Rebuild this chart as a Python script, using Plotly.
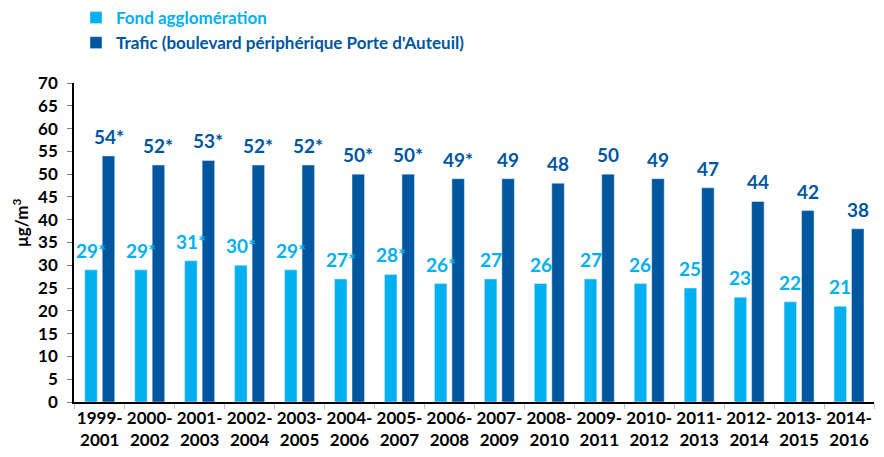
import plotly.graph_objects as go

categories = ["1999-<br>2001", "2000-<br>2002", "2001-<br>2003", "2002-<br>2004", "2003-<br>2005",
              "2004-<br>2006", "2005-<br>2007", "2006-<br>2008", "2007-<br>2009", "2008-<br>2010",
              "2009-<br>2011", "2010-<br>2012", "2011-<br>2013", "2012-<br>2014", "2013-<br>2015",
              "2014-<br>2016"]
fond = [29, 29, 31, 30, 29, 27, 28, 26, 27, 26, 27, 26, 25, 23, 22, 21]
trafic = [54, 52, 53, 52, 52, 50, 50, 49, 49, 48, 50, 49, 47, 44, 42, 38]
fond_labels = ["29*", "29*", "31*", "30*", "29*", "27*", "28*", "26*", "27", "26", "27", "26", "25", "23", "22", "21"]
trafic_labels = ["54*", "52*", "53*", "52*", "52*", "50*", "50*", "49*", "49", "48", "50", "49", "47", "44", "42", "38"]
y_ticks = list(range(0, 75, 5))

LIGHT = "#00B0F0"
DARK = "#00569F"
FONT = "Lato"

fig = go.Figure()
fig.add_trace(go.Bar(x=categories, y=fond,
                     name="<span style='color:%s'>Fond agglomération</span>" % LIGHT,
                     marker=dict(color=LIGHT), hoverinfo="skip"))
fig.add_trace(go.Bar(x=categories, y=trafic,
                     name="<span style='color:%s'>Trafic (boulevard périphérique Porte d'Auteuil)</span>" % DARK,
                     marker=dict(color=DARK), hoverinfo="skip"))

annotations = []
for c, v, t in zip(categories, fond, fond_labels):
    annotations.append(dict(x=c, y=v, text=t, xref="x", yref="y", showarrow=False,
                            xanchor="center", yanchor="bottom", xshift=-8.75, yshift=6,
                            font=dict(family=FONT, size=19, color=LIGHT, weight="bold")))
for c, v, t in zip(categories, trafic, trafic_labels):
    annotations.append(dict(x=c, y=v, text=t, xref="x", yref="y", showarrow=False,
                            xanchor="center", yanchor="bottom", xshift=8.75, yshift=6,
                            font=dict(family=FONT, size=19, color=DARK, weight="bold")))
# y-axis unit title
annotations.append(dict(x=-54 / 800, y=0.56, xref="paper", yref="paper", text="µg/m<sup>3</sup>",
                        showarrow=False, textangle=-90, xanchor="center", yanchor="middle",
                        font=dict(family=FONT, size=17, color="black", weight="bold")))

fig.update_layout(
    width=884, height=457,
    margin=dict(l=74, r=10, t=83, b=55, autoexpand=False),
    paper_bgcolor="white", plot_bgcolor="white",
    barmode="group", bargap=0.3, bargroupgap=0.286,
    font=dict(family=FONT, size=17, color="black", weight="bold"),
    showlegend=True,
    legend=dict(x=76 / 884, y=1.002, xref="container", yref="container",
                xanchor="left", yanchor="top",
                font=dict(family=FONT, size=17, weight="bold"),
                itemwidth=30, bgcolor="rgba(0,0,0,0)"),
    annotations=annotations,
)

fig.update_xaxes(showline=True, linecolor="black", linewidth=1.5, ticks="outside",
                 tickson="boundaries", ticklen=5, tickcolor="#BFBFBF", showgrid=False,
                 tickangle=0,
                 tickfont=dict(family=FONT, size=17, color="black", weight="bold"))
fig.update_yaxes(range=[0, 70], tickvals=y_ticks, showline=True, linecolor="black", linewidth=1.5,
                 ticks="outside", ticklen=5, tickcolor="#808080", showgrid=False, zeroline=False,
                 ticklabelstandoff=6,
                 tickfont=dict(family=FONT, size=17, color="black", weight="bold"))

fig.write_html("out.html", config={"displayModeBar": False},
               post_script="document.body.style.margin='0';")
